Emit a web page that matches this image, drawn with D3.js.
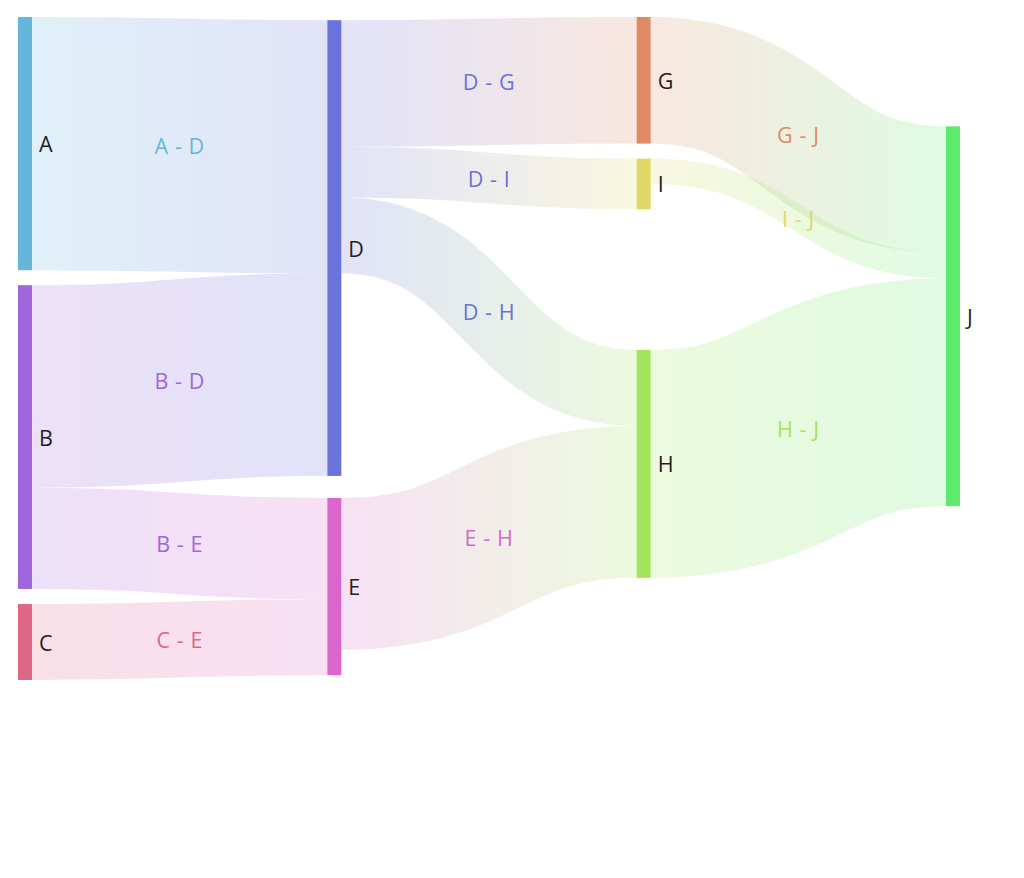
<!DOCTYPE html>
<html>
<head>
<meta charset="utf-8">
<script src="https://cdn.jsdelivr.net/npm/d3@7"></script>
<style>
  html, body { margin: 0; padding: 0; background: #fff; }
  svg { display: block; }
</style>
</head>
<body>
<svg id="chart" width="1024" height="878"></svg>
<script>
// ---- data ----
const nodeNames  = ["A", "D", "B", "E", "C", "G", "I", "H", "J"];
const nodeColors = ["#66b6dc", "#6a72dc", "#a066dc", "#dc66cc", "#de6686", "#e08a66", "#e0d864", "#a2e45a", "#5eea6a"];
const linkSources = ["A", "B", "B", "C", "D", "D", "D", "E", "G", "I", "H"];
const linkTargets = ["D", "D", "E", "E", "G", "I", "H", "H", "J", "J", "J"];
const linkValues  = [10, 8, 4, 3, 5, 2, 3, 6, 5, 1, 9];

// ---- layout settings ----
const W = 1024, H = 878;
const extent = [[18, 17], [960, 680]];
const nodeWidth = 14, nodePadding = 15, iterations = 6;

const nodes = nodeNames.map((name, i) => ({ name, color: nodeColors[i] }));
const byName = new Map(nodes.map(n => [n.name, n]));
const links = linkSources.map((s, i) => ({
  source: byName.get(s), target: byName.get(linkTargets[i]), value: linkValues[i]
}));

// Sankey layout (same scheme as d3-sankey: justify alignment, relaxation, collision passes)
function sankeyLayout(nodes, links) {
  const [[x0, y0], [x1, y1]] = extent;
  const dx = nodeWidth;
  let py;

  nodes.forEach((n, i) => { n.index = i; n.sourceLinks = []; n.targetLinks = []; });
  links.forEach((l, i) => { l.index = i; l.source.sourceLinks.push(l); l.target.targetLinks.push(l); });
  nodes.forEach(n => {
    n.value = Math.max(d3.sum(n.sourceLinks, l => l.value), d3.sum(n.targetLinks, l => l.value));
  });

  // depth
  let current = new Set(nodes), next = new Set(), x = 0;
  while (current.size) {
    for (const node of current) {
      node.depth = x;
      for (const { target } of node.sourceLinks) next.add(target);
    }
    x++; current = next; next = new Set();
  }

  // layers (justify) and horizontal scale
  const layerCount = d3.max(nodes, d => d.depth) + 1;
  const xScale = d3.scaleLinear().domain([0, layerCount - 1]).range([x0, x1 - dx]);
  const columns = Array.from({ length: layerCount }, () => []);
  for (const node of nodes) {
    const i = Math.max(0, Math.min(layerCount - 1, node.sourceLinks.length ? node.depth : layerCount - 1));
    node.layer = i;
    node.x0 = xScale(i);
    node.x1 = node.x0 + dx;
    columns[i].push(node);
  }

  const ascendingBreadth = (a, b) => a.y0 - b.y0;
  const ascSource = (a, b) => ascendingBreadth(a.source, b.source) || a.index - b.index;
  const ascTarget = (a, b) => ascendingBreadth(a.target, b.target) || a.index - b.index;
  const reorderLinks = ns => ns.forEach(n => { n.sourceLinks.sort(ascTarget); n.targetLinks.sort(ascSource); });
  const reorderNodeLinks = ({ sourceLinks, targetLinks }) => {
    for (const { source: { sourceLinks: sl } } of targetLinks) sl.sort(ascTarget);
    for (const { target: { targetLinks: tl } } of sourceLinks) tl.sort(ascSource);
  };

  py = Math.min(nodePadding, (y1 - y0) / (d3.max(columns, c => c.length) - 1));

  // value -> thickness scale from the tightest column
  const ky = d3.min(columns, c => (y1 - y0 - (c.length - 1) * py) / d3.sum(c, n => n.value));
  const thick = d3.scaleLinear().domain([0, 1]).range([0, ky]);

  for (const col of columns) {
    let y = y0;
    for (const node of col) {
      node.y0 = y;
      node.y1 = y + thick(node.value);
      y = node.y1 + py;
      for (const link of node.sourceLinks) link.width = thick(link.value);
    }
    y = (y1 - y + py) / (col.length + 1);
    col.forEach((node, i) => { node.y0 += y * (i + 1); node.y1 += y * (i + 1); });
    reorderLinks(col);
  }

  function targetTop(source, target) {
    let y = source.y0 - (source.sourceLinks.length - 1) * py / 2;
    for (const { target: node, width } of source.sourceLinks) { if (node === target) break; y += width + py; }
    for (const { source: node, width } of target.targetLinks) { if (node === source) break; y -= width; }
    return y;
  }
  function sourceTop(source, target) {
    let y = target.y0 - (target.targetLinks.length - 1) * py / 2;
    for (const { source: node, width } of target.targetLinks) { if (node === source) break; y += width + py; }
    for (const { target: node, width } of source.sourceLinks) { if (node === target) break; y -= width; }
    return y;
  }
  function pushDown(ns, y, i, alpha) {
    for (; i < ns.length; ++i) {
      const node = ns[i];
      const d = (y - node.y0) * alpha;
      if (d > 1e-6) { node.y0 += d; node.y1 += d; }
      y = node.y1 + py;
    }
  }
  function pushUp(ns, y, i, alpha) {
    for (; i >= 0; --i) {
      const node = ns[i];
      const d = (node.y1 - y) * alpha;
      if (d > 1e-6) { node.y0 -= d; node.y1 -= d; }
      y = node.y0 - py;
    }
  }
  function resolveCollisions(ns, alpha) {
    const i = ns.length >> 1;
    const subject = ns[i];
    pushUp(ns, subject.y0 - py, i - 1, alpha);
    pushDown(ns, subject.y1 + py, i + 1, alpha);
    pushUp(ns, y1, ns.length - 1, alpha);
    pushDown(ns, y0, 0, alpha);
  }
  function relaxLeftToRight(alpha, beta) {
    for (let i = 1; i < columns.length; ++i) {
      const col = columns[i];
      for (const target of col) {
        let y = 0, w = 0;
        for (const { source, value } of target.targetLinks) {
          const v = value * (target.layer - source.layer);
          y += targetTop(source, target) * v; w += v;
        }
        if (!(w > 0)) continue;
        const d = (y / w - target.y0) * alpha;
        target.y0 += d; target.y1 += d;
        reorderNodeLinks(target);
      }
      col.sort(ascendingBreadth);
      resolveCollisions(col, beta);
    }
  }
  function relaxRightToLeft(alpha, beta) {
    for (let i = columns.length - 2; i >= 0; --i) {
      const col = columns[i];
      for (const source of col) {
        let y = 0, w = 0;
        for (const { target, value } of source.sourceLinks) {
          const v = value * (target.layer - source.layer);
          y += sourceTop(source, target) * v; w += v;
        }
        if (!(w > 0)) continue;
        const d = (y / w - source.y0) * alpha;
        source.y0 += d; source.y1 += d;
        reorderNodeLinks(source);
      }
      col.sort(ascendingBreadth);
      resolveCollisions(col, beta);
    }
  }

  for (let i = 0; i < iterations; ++i) {
    const alpha = Math.pow(0.99, i);
    const beta = Math.max(1 - alpha, (i + 1) / iterations);
    relaxRightToLeft(alpha, beta);
    relaxLeftToRight(alpha, beta);
  }

  for (const node of nodes) {
    let a = node.y0, b = node.y0;
    for (const link of node.sourceLinks) { link.y0 = a + link.width / 2; a += link.width; }
    for (const link of node.targetLinks) { link.y1 = b + link.width / 2; b += link.width; }
  }
}

sankeyLayout(nodes, links);

// ---- drawing ----
const svg = d3.select("#chart");
const defs = svg.append("defs");

links.forEach((l, i) => {
  const g = defs.append("linearGradient")
    .attr("id", "flow" + i)
    .attr("gradientUnits", "userSpaceOnUse")
    .attr("x1", l.source.x1).attr("y1", 0)
    .attr("x2", l.target.x0).attr("y2", 0);
  g.append("stop").attr("offset", 0).attr("stop-color", l.source.color);
  g.append("stop").attr("offset", 1).attr("stop-color", l.target.color);
});

const linkPath = d3.linkHorizontal()
  .source(d => [d.source.x1, d.y0])
  .target(d => [d.target.x0, d.y1]);

svg.append("g").attr("class", "links")
  .attr("fill", "none")
  .selectAll("path").data(links).join("path")
  .attr("d", linkPath)
  .attr("stroke", (d, i) => `url(#flow${i})`)
  .attr("stroke-opacity", 0.2)
  .attr("stroke-width", d => Math.max(1, d.width));

svg.append("g").attr("class", "nodes")
  .selectAll("rect").data(nodes).join("rect")
  .attr("x", d => d.x0)
  .attr("y", d => d.y0)
  .attr("width", d => d.x1 - d.x0)
  .attr("height", d => d.y1 - d.y0)
  .attr("fill", d => d.color);

const font = "'Open Sans', 'Noto Sans', sans-serif";

svg.append("g").attr("class", "link-labels")
  .selectAll("text").data(links).join("text")
  .attr("x", d => (d.source.x1 + d.target.x0) / 2)
  .attr("y", d => (d.y0 + d.y1) / 2)
  .attr("text-anchor", "middle")
  .attr("dominant-baseline", "central")
  .attr("font-family", font)
  .attr("font-size", 21.5)
  .attr("letter-spacing", 0.6)
  .attr("fill", d => d.source.color)
  .text(d => `${d.source.name} - ${d.target.name}`);

svg.append("g").attr("class", "node-labels")
  .selectAll("text").data(nodes).join("text")
  .attr("x", d => d.x1 + 7)
  .attr("y", d => (d.y0 + d.y1) / 2)
  .attr("dominant-baseline", "central")
  .attr("font-family", font)
  .attr("font-size", 21.5)
  .attr("fill", "#1e1e1e")
  .text(d => d.name);
</script>
</body>
</html>
